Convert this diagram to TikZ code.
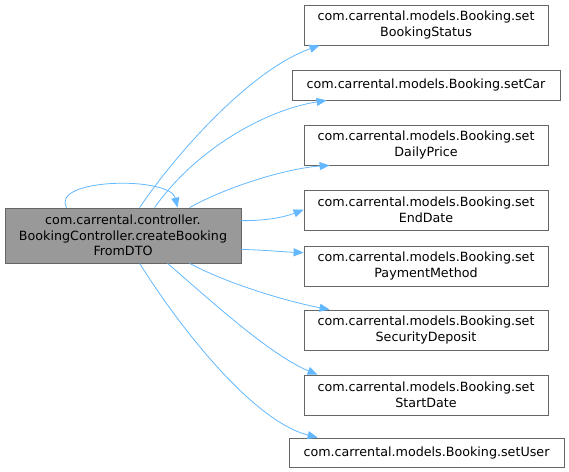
\documentclass[tikz,border=0pt]{standalone}
\usepackage{fontspec}
\setmainfont{DejaVu Sans}
\usetikzlibrary{arrows.meta}
\definecolor{edgeblue}{HTML}{63B8FF}
\definecolor{boxgray}{HTML}{999999}
\definecolor{boxborder}{HTML}{666666}
\tikzset{
  fn/.style={draw=boxborder, fill=white, line width=0.8pt, align=center, inner sep=0pt,
     font=\fontsize{12.7}{15.5}\selectfont, text=black},
  mainfn/.style={fn, fill=boxgray},
  call/.style={draw=edgeblue, line width=0.8pt, -{Triangle[length=10pt,width=8pt]}},
}
\begin{document}
\begin{tikzpicture}[x=1pt,y=-1pt]
\useasboundingbox (0,0) rectangle (569,471);
\node[mainfn, minimum width=236pt, minimum height=55pt] (main) at (123,235.5)
  {com.carrental.controller.\\BookingController.createBooking\\FromDTO};
\node[fn, minimum width=244pt, minimum height=40pt] (status) at (426,25)
  {com.carrental.models.Booking.set\\BookingStatus};
\node[fn, minimum width=268pt, minimum height=30pt] (car) at (426,85)
  {com.carrental.models.Booking.setCar};
\node[fn, minimum width=244pt, minimum height=40pt] (daily) at (426,145)
  {com.carrental.models.Booking.set\\DailyPrice};
\node[fn, minimum width=244pt, minimum height=40pt] (end) at (426,210)
  {com.carrental.models.Booking.set\\EndDate};
\node[fn, minimum width=244pt, minimum height=40pt] (pay) at (426,266)
  {com.carrental.models.Booking.set\\PaymentMethod};
\node[fn, minimum width=244pt, minimum height=40pt] (sec) at (426,330)
  {com.carrental.models.Booking.set\\SecurityDeposit};
\node[fn, minimum width=244pt, minimum height=40pt] (start) at (426,395)
  {com.carrental.models.Booking.set\\StartDate};
\node[fn, minimum width=275pt, minimum height=29pt] (user) at (426.5,452.5)
  {com.carrental.models.Booking.setUser};

% self loop
\draw[call] ([xshift=62pt]main.north west) .. controls (50,178) and (170,176) .. ([xshift=173pt]main.north west);
% calls
\draw[call] ([xshift=135pt]main.north west) .. controls (175,155) and (250,70) .. ([xshift=16pt]status.south west);
\draw[call] ([xshift=150pt]main.north west) .. controls (195,150) and (265,110) .. ([xshift=35pt]car.south west);
\draw[call] ([xshift=185pt]main.north west) .. controls (230,185) and (290,168) .. ([xshift=26pt]daily.south west);
\draw[call] ([yshift=-13pt]main.north east) .. controls (265,221) and (285,217) .. ([yshift=-20pt]end.north west);
\draw[call] ([yshift=14pt]main.south east) .. controls (265,250) and (285,252) .. ([yshift=-7pt]pay.north west);
\draw[call] ([xshift=185pt]main.south west) .. controls (230,285) and (290,302) .. ([xshift=26pt]sec.north west);
\draw[call] ([xshift=163pt]main.south west) .. controls (210,300) and (270,355) .. ([xshift=14pt]start.north west);
\draw[call] ([xshift=135pt]main.south west) .. controls (175,320) and (250,420) .. ([xshift=29pt]user.north west);
\end{tikzpicture}
\end{document}
